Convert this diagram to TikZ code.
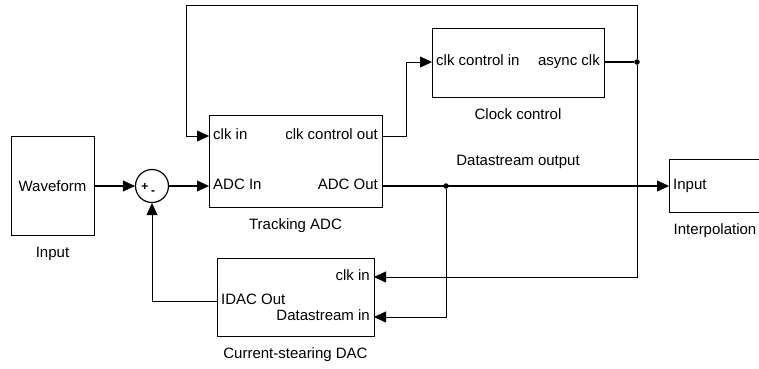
\documentclass[tikz,border=0pt]{standalone}
\usepackage{fontspec}
\setmainfont{Liberation Sans}
\usetikzlibrary{arrows.meta}

\tikzset{
  block/.style={draw, line width=1pt, inner sep=0pt},
  lbl/.style={label distance=8pt},
  port/.style={inner sep=4pt, text height=10pt, text depth=3pt},
  wire/.style={line width=0.9pt},
  sig/.style={line width=1.8pt},
  dot/.style={circle, fill, inner sep=0pt, minimum size=5.5pt},
  sign/.style={font=\fontsize{12}{14}\selectfont\bfseries, inner sep=0pt},
}

\begin{document}
\begin{tikzpicture}[x=1pt, y=-1pt,
    >={Triangle[length=12pt,width=11pt,line width=0.4pt]},
    font=\fontsize{15}{18}\selectfont]
\clip (0,0) rectangle (759,368);

% blocks
\node[block, minimum width=83pt, minimum height=99pt,
      label={[lbl]below:Input}] (inp) at (52.5,186) {Waveform};
\node[draw, circle, line width=1.2pt, minimum size=33pt] (sum) at (152,186) {};
\node[block, minimum width=173pt, minimum height=92pt,
      label={[lbl]below:Tracking ADC}] (adc) at (295.5,161) {};
\node[block, minimum width=172pt, minimum height=69pt,
      label={[lbl]below:Clock control}] (clk) at (518,62.5) {};
\node[block, minimum width=157pt, minimum height=78pt,
      label={[lbl]below:Current-stearing DAC}] (dac) at (295.5,297) {};
\node[block, minimum width=92pt, minimum height=53pt,
      label={[lbl]below:Interpolation}] (interp) at (715,185.5) {};

% signs of the sum
\node[sign] (plus) at (145,187) {+};
\node[sign] (minus) at (153,193) {-};

% ports
\node[port, anchor=west] (adcclk) at (209,136) {clk in};
\node[port, anchor=west] (adcin) at (209,186) {ADC In};
\node[port, anchor=east] (ctlout) at (382,136) {clk control out};
\node[port, anchor=east] (adcout) at (382,186) {ADC Out};
\node[port, anchor=west] (ctlin) at (432,62) {clk control in};
\node[port, anchor=east] (async) at (604,62) {async clk};
\node[port, anchor=east] (dacclk) at (374,277) {clk in};
\node[port, anchor=west] (idac) at (217,301) {IDAC Out};
\node[port, anchor=east] (dacdata) at (374,317) {Datastream in};
\node[port, anchor=west] (interpin) at (669,186) {Input};

% branch points
\node[dot] (jclk) at (637,62) {};
\node[dot] (jdata) at (446,186) {};
\coordinate (top) at (186,5);

% connections
\draw[sig,->] (inp.east) -- (sum.west);
\draw[sig,->] (sum.east) -- (adcin.west);
\draw[wire,->] (ctlout.east) -- ++(24,0) |- (ctlin.west);
\draw[sig] (async.east) -- (jclk);
\draw[wire,->] (jclk) |- (top) |- (adcclk.west);
\draw[wire,->] (jclk) |- (dacclk.east);
\draw[wire,->] (jdata) |- (dacdata.east);
\draw[sig,->] (adcout.east) -- (interpin.west)
  node[pos=.474, above=13pt] (dlabel) {Datastream output};
\draw[wire,->] (idac.west) -| (sum.south);
\end{tikzpicture}
\end{document}
